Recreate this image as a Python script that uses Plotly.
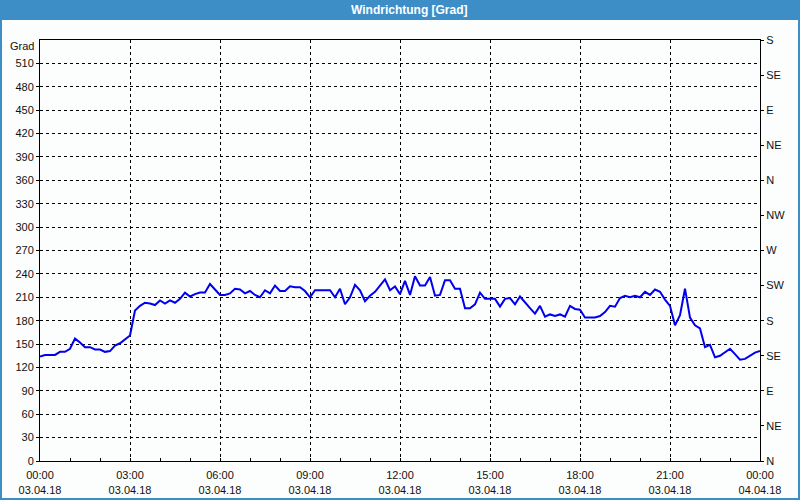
import plotly.graph_objects as go
import pandas as pd

# Data: wind direction in degrees, 10-minute samples on 03.04.18
times = pd.date_range("2018-04-03 00:00", "2018-04-04 00:00", freq="10min")
direction = [
    134, 136, 136, 136, 140, 140, 144, 157, 152, 146,
    146, 143, 143, 140, 141, 148, 151, 156, 161, 193,
    199, 203, 202, 200, 206, 202, 206, 203, 208, 216,
    211, 214, 216, 216, 227, 220, 213, 213, 215, 221,
    220, 215, 218, 213, 210, 219, 215, 225, 218, 218,
    224, 223, 223, 218, 210, 219, 219, 219, 219, 210,
    221, 201, 210, 226, 219, 205, 212, 217, 225, 233,
    219, 224, 214, 231, 213, 237, 225, 225, 236, 212,
    213, 232, 232, 221, 221, 196, 196, 201, 216, 208,
    208, 208, 198, 208, 209, 201, 211, 203, 196, 189,
    199, 185, 188, 186, 188, 185, 199, 195, 194, 184,
    184, 184, 186, 191, 199, 198, 209, 212, 210, 212,
    210, 217, 213, 220, 217, 207, 199, 174, 187, 221,
    184, 174, 170, 146, 149, 133, 135, 140, 144, 137,
    130, 131, 135, 139, 141,
]

left_tickvals = list(range(0, 540, 30))
right_tickvals = list(range(0, 541, 45))
right_ticktext = ["N", "NE", "E", "SE", "S", "SW", "W", "NW", "N", "NE", "E", "SE", "S"]
title_text = "Windrichtung [Grad]"
unit_text = "Grad"

W, H = 800, 500
L, R, T, B = 40, 40, 40, 39
pw, ph = W - L - R, H - T - B


def px(x):
    return (x - L) / pw


def py(y):
    return (H - B - y) / ph


BLUE = "#3d8ec7"
BG = "#fcfdfd"
FONT = "Liberation Sans"

fig = go.Figure()
fig.add_trace(go.Scatter(
    x=times, y=direction, mode="lines",
    line=dict(color="#0000ee", width=2),
    hoverinfo="x+y", showlegend=False,
))
fig.add_trace(go.Scatter(
    x=[times[0]], y=[0], yaxis="y2", mode="markers",
    marker=dict(opacity=0), hoverinfo="skip", showlegend=False,
))

grid = dict(showgrid=True, gridcolor="black", gridwidth=1, griddash="3px,3px")

fig.update_layout(
    width=W, height=H,
    margin=dict(l=L, r=R, t=T, b=B, pad=0, autoexpand=False),
    paper_bgcolor=BLUE, plot_bgcolor=BG,
    font=dict(family=FONT, size=11, color="#111111"),
    showlegend=False,
    xaxis=dict(
        type="date",
        range=["2018-04-03 00:00", "2018-04-04 00:00"],
        tick0="2018-04-03 00:00", dtick=3 * 3600 * 1000,
        tickformat="%H:%M<br>%d.%m.%y",
        ticklabelstandoff=4, automargin=False,
        showline=True, linecolor="black", linewidth=1, mirror=True,
        ticks="inside", ticklen=3, tickcolor="black",
        minor=dict(dtick=3600 * 1000, ticks="inside", ticklen=3,
                   tickcolor="black", showgrid=False),
        zeroline=False, fixedrange=True,
        **grid,
    ),
    yaxis=dict(
        range=[0, 540], tickvals=left_tickvals, automargin=False,
        showline=True, linecolor="black", linewidth=1, mirror=True,
        ticks="outside", ticklen=3, tickcolor="black",
        zeroline=False, fixedrange=True,
        **grid,
    ),
    yaxis2=dict(
        range=[0, 540], overlaying="y", side="right", automargin=False,
        tickvals=right_tickvals, ticktext=right_ticktext,
        ticks="outside", ticklen=3, tickcolor="black",
        showgrid=False, zeroline=False, showline=False, fixedrange=True,
    ),
    shapes=[dict(
        type="rect", xref="paper", yref="paper", layer="below",
        x0=px(2), x1=px(W - 2), y0=py(H - 2), y1=py(20),
        fillcolor=BG, line=dict(width=0),
    )],
    annotations=[
        dict(text="<b>" + title_text + "</b>", xref="paper", yref="paper",
             x=px(410), y=py(10), xanchor="center", yanchor="middle",
             showarrow=False, font=dict(family=FONT, size=12, color="white")),
        dict(text=unit_text, xref="paper", yref="paper",
             x=px(36), y=py(46), xanchor="right", yanchor="middle",
             showarrow=False, font=dict(family=FONT, size=11, color="#111111")),
    ],
)

fig.write_html("out.html")
